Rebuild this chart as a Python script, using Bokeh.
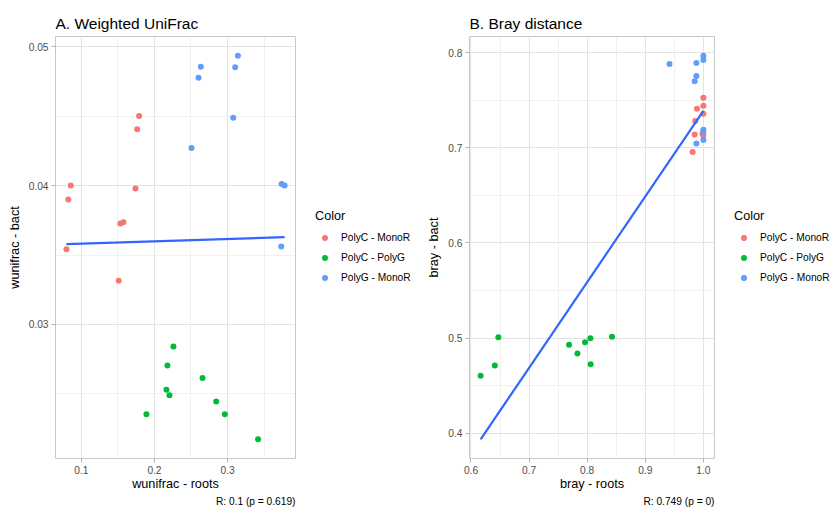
from bokeh.plotting import figure
from bokeh.models import Range1d, FixedTicker, Legend, LegendItem, Title
from bokeh.layouts import row
from bokeh.embed import file_html
from bokeh.resources import INLINE

FONT = "Liberation Sans"

groups = ["PolyC - MonoR", "PolyC - PolyG", "PolyG - MonoR"]
colors = ["#F8766D", "#00BA38", "#619CFF"]

# ---- Panel A: weighted UniFrac ----
wu_roots_pcmr = [0.0795, 0.0822, 0.0855, 0.1534, 0.1575, 0.174, 0.1763, 0.179, 0.1511]
wu_bact_pcmr = [0.03542, 0.0390, 0.0400, 0.03727, 0.03736, 0.03978, 0.04405, 0.0450, 0.03314]
wu_roots_pcpg = [0.2260, 0.2178, 0.2658, 0.2164, 0.2205, 0.2845, 0.1890, 0.2963, 0.3418]
wu_bact_pcpg = [0.02842, 0.02705, 0.02614, 0.0253, 0.0249, 0.02446, 0.02353, 0.02353, 0.02173]
wu_roots_pgmr = [0.2507, 0.2603, 0.2635, 0.3078, 0.3105, 0.3142, 0.3740, 0.3781, 0.3735]
wu_bact_pgmr = [0.0427, 0.04777, 0.04856, 0.04489, 0.04851, 0.04935, 0.04012, 0.0400, 0.03561]
wu_fit_x = [0.0795, 0.3781]
wu_fit_y = [0.03578, 0.03628]
wu_xticks = [0.1, 0.2, 0.3]
wu_xtick_labels = ["0.1", "0.2", "0.3"]
wu_xminor = [0.15, 0.25, 0.35]
wu_yticks = [0.03, 0.04, 0.05]
wu_ytick_labels = ["0.03", "0.04", "0.05"]
wu_yminor = [0.025, 0.035, 0.045]

# ---- Panel B: Bray distance ----
br_roots_pcmr = [1.0, 1.0, 0.989, 1.0, 0.986, 0.985, 0.9985, 1.0, 0.9815]
br_bact_pcmr = [0.7525, 0.7443, 0.7411, 0.7359, 0.7282, 0.714, 0.7147, 0.7126, 0.6955]
br_roots_pcpg = [0.6166, 0.6410, 0.6471, 0.7688, 0.7832, 0.7963, 0.8055, 0.806, 0.8427]
br_bact_pcpg = [0.4604, 0.4712, 0.501, 0.493, 0.4838, 0.4958, 0.500, 0.4727, 0.5014]
br_roots_pgmr = [0.9417, 0.988, 1.0, 1.0, 0.988, 0.985, 1.0, 1.0, 0.988, 1.0]
br_bact_pgmr = [0.788, 0.789, 0.7968, 0.7923, 0.7754, 0.7699, 0.7189, 0.7165, 0.7046, 0.7081]
br_fit_x = [0.6166, 1.0]
br_fit_y = [0.3937, 0.7389]
br_xticks = [0.6, 0.7, 0.8, 0.9, 1.0]
br_xtick_labels = ["0.6", "0.7", "0.8", "0.9", "1.0"]
br_xminor = [0.65, 0.75, 0.85, 0.95]
br_yticks = [0.4, 0.5, 0.6, 0.7, 0.8]
br_ytick_labels = ["0.4", "0.5", "0.6", "0.7", "0.8"]
br_yminor = [0.45, 0.55, 0.65, 0.75]

H = 508
NAN = float("nan")


def expand(vals, frac=0.05):
    lo, hi = min(vals), max(vals)
    d = (hi - lo) * frac
    return lo - d, hi + d


def make_panel(title, xlab, ylab, caption, xs, ys, fit_x, fit_y,
               xticks, xlabels, xminor, yticks, ylabels, yminor,
               width, border_left, border_right):
    all_x = sum(xs, []) + fit_x
    all_y = sum(ys, []) + fit_y
    x0, x1 = expand(all_x)
    y0, y1 = expand(all_y)
    p = figure(width=width, height=H, output_backend="svg", toolbar_location=None,
               x_range=Range1d(x0, x1), y_range=Range1d(y0, y1),
               min_border_left=border_left, min_border_right=border_right,
               min_border_top=36, min_border_bottom=50)
    p.background_fill_color = "white"
    p.border_fill_color = "white"
    p.outline_line_color = "#C8C8C8"
    p.outline_line_width = 1

    p.title.text = title
    p.title.align = "left"
    p.title.text_font = FONT
    p.title.text_font_size = "15.5px"
    p.title.text_font_style = "normal"
    p.title.text_color = "#000000"
    p.title.standoff = 9

    p.xaxis.ticker = FixedTicker(ticks=xticks, minor_ticks=xminor)
    p.yaxis.ticker = FixedTicker(ticks=yticks, minor_ticks=yminor)
    p.xaxis.major_label_overrides = {t: l for t, l in zip(xticks, xlabels)}
    p.yaxis.major_label_overrides = {t: l for t, l in zip(yticks, ylabels)}
    for ax in (p.xaxis, p.yaxis):
        ax.axis_line_color = None
        ax.major_tick_line_color = "#B3B3B3"
        ax.major_tick_out = 4
        ax.major_tick_in = 0
        ax.minor_tick_line_color = None
        ax.major_label_text_font = FONT
        ax.major_label_text_font_size = "10.2px"
        ax.major_label_text_color = "#4D4D4D"
        ax.axis_label_text_font = FONT
        ax.axis_label_text_font_size = "12.7px"
        ax.axis_label_text_font_style = "normal"
        ax.axis_label_text_color = "#000000"
    p.xaxis.major_label_standoff = 3
    p.xaxis.axis_label_standoff = 0
    p.yaxis.major_label_standoff = 3
    p.yaxis.axis_label_standoff = 4
    p.xaxis.axis_label = xlab
    p.yaxis.axis_label = ylab

    for g in (p.xgrid, p.ygrid):
        g.grid_line_color = "#E3E3E3"
        g.grid_line_width = 1
        g.minor_grid_line_color = "#F0F0F0"
        g.minor_grid_line_width = 1

    for gx, gy, c in zip(xs, ys, colors):
        p.scatter(gx, gy, size=6, fill_color=c, line_color=None, marker="circle")
    p.line(fit_x, fit_y, line_color="#3366FF", line_width=2.2)

    cap = Title(text=caption, align="right", text_font=FONT, text_font_size="10.2px",
                text_font_style="normal", text_color="#000000", standoff=0)
    p.add_layout(cap, "below")
    return p


def make_legend(width, legend_x):
    q = figure(width=width, height=H, output_backend="svg", toolbar_location=None,
               x_range=Range1d(0, 1), y_range=Range1d(0, 1),
               min_border_left=0, min_border_right=0, min_border_top=0, min_border_bottom=0)
    q.axis.visible = False
    q.grid.visible = False
    q.outline_line_color = None
    q.background_fill_color = "white"
    q.border_fill_color = "white"
    rs = [q.scatter([NAN], [NAN], size=6, fill_color=c, line_color=None, marker="circle")
          for c in colors]
    legend = Legend(items=[LegendItem(label=g, renderers=[r]) for g, r in zip(groups, rs)],
                    location=(legend_x, 173.4), title="Color",
                    title_text_font=FONT, title_text_font_size="12.7px",
                    title_text_font_style="normal", title_text_color="#000000",
                    label_text_font=FONT, label_text_font_size="10.2px", label_text_color="#000000",
                    glyph_width=19, glyph_height=15, label_height=15, spacing=5,
                    padding=0, margin=0, border_line_color=None, background_fill_alpha=0,
                    title_standoff=7, label_standoff=7)
    q.add_layout(legend)
    return q


p1 = make_panel("A. Weighted UniFrac", "wunifrac - roots", "wunifrac - bact", "R: 0.1 (p = 0.619)",
                [wu_roots_pcmr, wu_roots_pcpg, wu_roots_pgmr],
                [wu_bact_pcmr, wu_bact_pcpg, wu_bact_pgmr],
                wu_fit_x, wu_fit_y,
                wu_xticks, wu_xtick_labels, wu_xminor, wu_yticks, wu_ytick_labels, wu_yminor,
                width=300, border_left=55, border_right=5)
l1 = make_legend(116, 15)
p2 = make_panel("B. Bray distance", "bray - roots", "bray - bact", "R: 0.749 (p = 0)",
                [br_roots_pcmr, br_roots_pcpg, br_roots_pgmr],
                [br_bact_pcmr, br_bact_pcpg, br_bact_pgmr],
                br_fit_x, br_fit_y,
                br_xticks, br_xtick_labels, br_xminor, br_yticks, br_ytick_labels, br_yminor,
                width=303, border_left=53, border_right=5)
l2 = make_legend(113, 15)

layout = row(p1, l1, p2, l2)
open("out.html", "w").write(file_html(layout, INLINE))
